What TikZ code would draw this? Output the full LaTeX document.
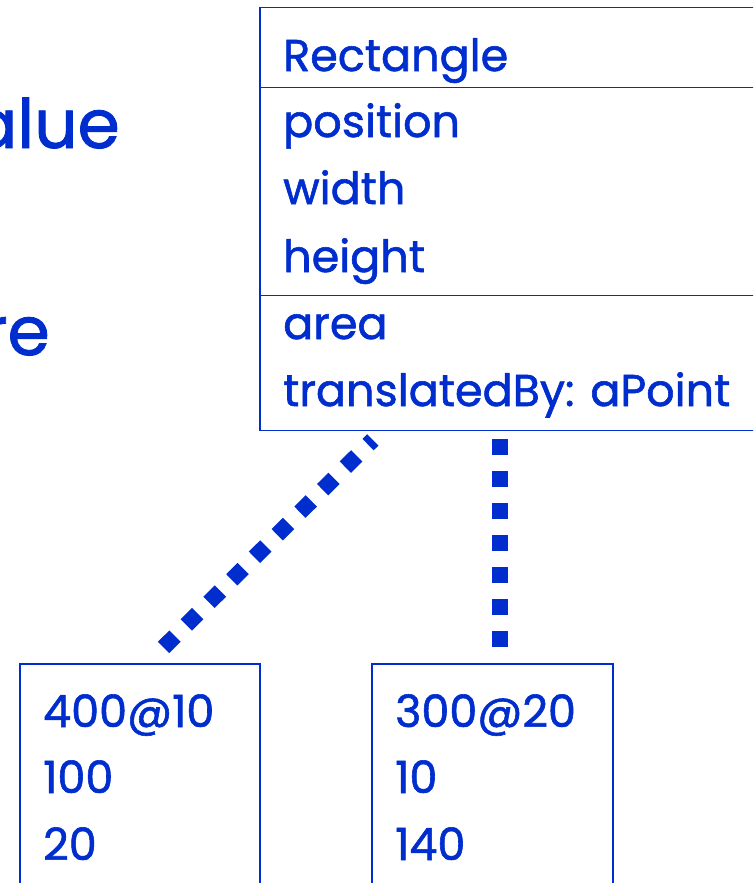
\documentclass[tikz,border=0pt]{standalone}
\usepackage{fontspec}
\setmainfont{Poppins}[FakeBold=1.3]
\definecolor{ink}{RGB}{0,45,205}

\begin{document}
\begin{tikzpicture}[x=1pt,y=-1pt,
        every node/.style = {text=ink, inner sep=0pt},
        item/.style = {anchor=base west, font=\fontsize{44.5}{44.5}\selectfont},
        slide/.style = {anchor=base east, font=\fontsize{68}{68}\selectfont},
        box/.style = {draw=ink, line width=1.5pt, rectangle},
        rule/.style = {draw=ink, line width=1.5pt},
        link/.style = {draw=ink, line width=16pt, dash pattern=on 16pt off 16pt},]
        \useasboundingbox (0,0) rectangle (753,883);
        \clip (0,0) rectangle (753,883);

        % words of the slide, cut at the left border
        \node[slide] (w1) at (120,148) {alue};
        \node[slide] (w2) at (50,355) {re};

        % class box
        \node[box, minimum width=520, minimum height=423.4] (cls) at (520,219) {};
        \draw[rule] (cls.west |- 0,87.7) -- (cls.east |- 0,87.7);
        \draw[rule] (cls.west |- 0,295.3) -- (cls.east |- 0,295.3);

        \node[item] (cname) at (283,71) {Rectangle};
        \node[item] (a1) at (283,137) {position};
        \node[item] (a2) at (283,204) {width};
        \node[item] (a3) at (283,272) {height};
        \node[item] (m1) at (283,339) {area};
        \node[item] (m2) at (283,406) {translatedBy: aPoint};

        % instances
        \node[box, minimum width=240, minimum height=260] (obj1) at (140,794) {};
        \node[box, minimum width=241, minimum height=260] (obj2) at (492.5,794) {};

        \node[item] (p1) at (43,727) {400@10};
        \node[item] (p2) at (43,793) {100};
        \node[item] (p3) at (43,860) {20};

        \node[item] (q1) at (395,727) {300@20};
        \node[item] (q2) at (395,793) {10};
        \node[item] (q3) at (395,860) {140};

        % instance-of links
        \coordinate (l1) at (163.6,647.4);
        \coordinate (l2) at (372.8,439.9);
        \coordinate (r1) at (500,439);
        \coordinate (r2) at (500,647);
        \draw[link] (l1) -- (l2);
        \draw[link] (r1) -- (r2);

\end{tikzpicture}
\end{document}
